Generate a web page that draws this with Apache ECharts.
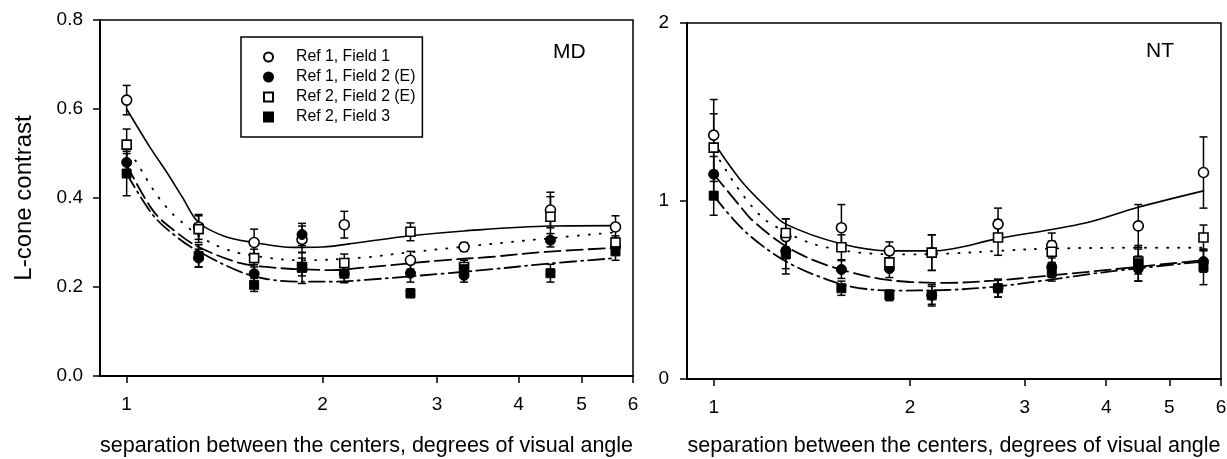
<!DOCTYPE html>
<html>
<head>
<meta charset="utf-8">
<script src="https://cdn.jsdelivr.net/npm/echarts@6/dist/echarts.min.js"></script>
<style>
  html, body { margin: 0; padding: 0; background: #fff; }
  #chart { width: 1227px; height: 459px; }
</style>
</head>
<body>
<div id="chart"></div>
<script>
var FONT = '"Liberation Sans", Arial, sans-serif';

// separation between the centers (deg)
var sep = [1.0, 1.29, 1.57, 1.86, 2.16, 2.73, 3.30, 4.48, 5.64];
var xTicks = [1, 2, 3, 4, 5, 6];
var names = ['Ref 1, Field 1', 'Ref 1, Field 2 (E)', 'Ref 2, Field 2 (E)', 'Ref 2, Field 3'];

// MD panel
var md_r1f1 = [0.62, 0.335, 0.30, 0.307, 0.34, 0.26, 0.29, 0.373, 0.335];
var md_r1f2 = [0.48, 0.265, 0.23, 0.318, 0.23, 0.231, 0.226, 0.305, 0.29];
var md_r2f2 = [0.52, 0.33, 0.265, 0.245, 0.254, 0.324, 0.245, 0.358, 0.30];
var md_r2f3 = [0.455, 0.27, 0.205, 0.243, 0.23, 0.186, 0.24, 0.231, 0.28];
var e_md_r1f1 = [0.033, 0.028, 0.03, 0.03, 0.03, 0.02, 0.01, 0.04, 0.025];
var e_md_r1f2 = [0.02, 0.02, 0.02, 0.025, 0.02, 0.02, 0.015, 0.015, 0.015];
var e_md_r2f2 = [0.035, 0.03, 0.02, 0.02, 0.02, 0.02, 0.015, 0.045, 0.015];
var e_md_r2f3 = [0.05, 0.025, 0.015, 0.035, 0.02, 0.01, 0.02, 0.02, 0.02];

// MD fitted curves
var md_fit1_x = [1.0, 1.085, 1.15, 1.22, 1.29, 1.42, 1.57, 1.8, 2.0, 2.28, 2.73, 3.3, 4.48, 5.64];
var md_fit1_y = [0.60, 0.515, 0.46, 0.40, 0.345, 0.313, 0.30, 0.289, 0.29, 0.30, 0.315, 0.326, 0.337, 0.338];
var md_fit2_x = [1.0, 1.1, 1.2, 1.29, 1.49, 1.64, 1.84, 2.07, 2.33, 3.06, 3.65, 4.41, 5.64];
var md_fit2_y = [0.475, 0.37, 0.32, 0.29, 0.254, 0.245, 0.24, 0.238, 0.244, 0.26, 0.268, 0.279, 0.288];
var md_fit3_x = [1.0, 1.03, 1.053, 1.082, 1.11, 1.144, 1.185, 1.232, 1.29, 1.42, 1.57, 1.86, 2.3, 2.72, 3.48, 4.5, 5.64];
var md_fit3_y = [0.50, 0.485, 0.463, 0.434, 0.409, 0.384, 0.36, 0.339, 0.315, 0.285, 0.27, 0.26, 0.266, 0.278, 0.294, 0.31, 0.323];
var md_fit4_x = [1.0, 1.1, 1.2, 1.29, 1.49, 1.64, 1.84, 2.07, 2.33, 3.06, 3.65, 4.41, 5.64];
var md_fit4_y = [0.455, 0.36, 0.31, 0.28, 0.235, 0.218, 0.212, 0.212, 0.216, 0.23, 0.24, 0.252, 0.265];

// NT panel
var nt_r1f1 = [1.37, 0.80, 0.85, 0.72, 0.71, 0.87, 0.75, 0.86, 1.16];
var nt_r1f2 = [1.15, 0.72, 0.615, 0.62, 0.47, 0.51, 0.63, 0.62, 0.66];
var nt_r2f2 = [1.30, 0.82, 0.74, 0.655, 0.71, 0.795, 0.715, 0.66, 0.795];
var nt_r2f3 = [1.03, 0.70, 0.51, 0.47, 0.47, 0.51, 0.60, 0.65, 0.63];
var e_nt_r1f1 = [0.2, 0.1, 0.13, 0.05, 0.1, 0.09, 0.07, 0.12, 0.2];
var e_nt_r1f2 = [0.1, 0.1, 0.05, 0.05, 0.06, 0.05, 0.06, 0.07, 0.06];
var e_nt_r2f2 = [0.19, 0.08, 0.07, 0.05, 0.1, 0.1, 0.06, 0.07, 0.07];
var e_nt_r2f3 = [0.11, 0.11, 0.04, 0.03, 0.05, 0.05, 0.05, 0.1, 0.1];

var nt_fit1_x = [1.0, 1.1, 1.21, 1.29, 1.567, 1.87, 2.17, 2.74, 3.7, 4.48, 5.64];
var nt_fit1_y = [1.33, 1.117, 0.958, 0.87, 0.76, 0.72, 0.72, 0.79, 0.875, 0.965, 1.057];
var nt_fit2_x = [1.0, 1.1, 1.14, 1.25, 1.36, 1.49, 1.64, 1.80, 2.0, 2.28, 2.69, 3.21, 4.07, 5.64];
var nt_fit2_y = [1.15, 0.967, 0.90, 0.78, 0.70, 0.64, 0.595, 0.563, 0.545, 0.54, 0.553, 0.578, 0.615, 0.668];
var nt_fit3_x = [1.0, 1.025, 1.068, 1.10, 1.13, 1.17, 1.22, 1.37, 1.48, 1.72, 2.0, 2.3, 2.74, 3.3, 4.48, 5.64];
var nt_fit3_y = [1.28, 1.22, 1.117, 1.05, 0.995, 0.93, 0.875, 0.78, 0.742, 0.706, 0.70, 0.705, 0.72, 0.733, 0.737, 0.737];
var nt_fit4_x = [1.0, 1.07, 1.14, 1.24, 1.33, 1.44, 1.62, 1.89, 2.26, 2.69, 3.21, 4.07, 5.64];
var nt_fit4_y = [1.03, 0.90, 0.80, 0.70, 0.635, 0.58, 0.52, 0.497, 0.50, 0.518, 0.553, 0.605, 0.66];

var lg = function (v) { return Math.log10(v); };

function pts(xs, ys) {
    return xs.map(function (x, i) { return [lg(x), ys[i]]; });
}
function errPts(ys, es) {
    return sep.map(function (x, i) { return [lg(x), ys[i], es[i]]; });
}

function renderErr(params, api) {
    var x = api.value(0), y = api.value(1), e = api.value(2);
    var top = api.coord([x, y + e]);
    var bot = api.coord([x, y - e]);
    var w = 4;
    var st = { stroke: '#000', lineWidth: 1.5 };
    return {
        type: 'group',
        children: [
            { type: 'line', shape: { x1: top[0], y1: top[1], x2: bot[0], y2: bot[1] }, style: st },
            { type: 'line', shape: { x1: top[0] - w, y1: top[1], x2: top[0] + w, y2: top[1] }, style: st },
            { type: 'line', shape: { x1: bot[0] - w, y1: bot[1], x2: bot[0] + w, y2: bot[1] }, style: st }
        ]
    };
}

var markerStyle = [
    { symbol: 'circle', size: 10, itemStyle: { color: '#fff', borderColor: '#000', borderWidth: 1.6, opacity: 1 } },
    { symbol: 'circle', size: 10, itemStyle: { color: '#000', borderColor: '#000', borderWidth: 1, opacity: 1 } },
    { symbol: 'rect', size: 9, itemStyle: { color: '#fff', borderColor: '#000', borderWidth: 1.6, opacity: 1 } },
    { symbol: 'rect', size: 9, itemStyle: { color: '#000', borderColor: '#000', borderWidth: 1, opacity: 1 } }
];
var fitStyle = [
    { type: 'solid', width: 1.6 },
    { type: [16, 6], width: 1.8 },
    { type: [1, 10], width: 1.9 },
    { type: [16, 5, 2, 5], width: 1.8 }
];

function xAxisOf(idx) {
    return {
        type: 'value', gridIndex: idx,
        min: lg(0.91), max: lg(6),
        name: 'separation between the centers, degrees of visual angle',
        nameLocation: 'middle', nameGap: idx === 0 ? 59 : 56,
        nameTextStyle: { fontFamily: FONT, fontSize: 21.5, color: '#000' },
        axisLine: { show: true, onZero: false, lineStyle: { color: '#000', width: 2 } },
        axisTick: { show: true, length: 7, customValues: xTicks.map(lg), lineStyle: { color: '#000', width: 1.5 } },
        axisLabel: {
            show: true, margin: 19, customValues: xTicks.map(lg),
            fontFamily: FONT, fontSize: 19, color: '#000',
            formatter: function (v) { return String(Math.round(Math.pow(10, v))); }
        },
        splitLine: { show: false }
    };
}

var series = [];
function addPanel(idx, groups, errs, fits) {
    groups.forEach(function (ys, k) {
        series.push({
            type: 'custom', xAxisIndex: idx, yAxisIndex: idx, z: 2,
            renderItem: renderErr, data: errPts(ys, errs[k]), silent: true
        });
    });
    fits.forEach(function (f, k) {
        series.push({
            type: 'line', xAxisIndex: idx, yAxisIndex: idx, z: 1,
            data: pts(f[0], f[1]), smooth: 0.35, showSymbol: false, silent: true,
            lineStyle: { color: '#000', width: fitStyle[k].width, type: fitStyle[k].type, cap: 'round' }
        });
    });
    groups.forEach(function (ys, k) {
        var m = markerStyle[k];
        series.push({
            name: names[k], type: 'scatter', xAxisIndex: idx, yAxisIndex: idx, z: 3,
            symbol: m.symbol, symbolSize: m.size, itemStyle: m.itemStyle,
            emphasis: { disabled: true },
            data: pts(sep, ys)
        });
    });
}

addPanel(0, [md_r1f1, md_r1f2, md_r2f2, md_r2f3],
    [e_md_r1f1, e_md_r1f2, e_md_r2f2, e_md_r2f3],
    [[md_fit1_x, md_fit1_y], [md_fit2_x, md_fit2_y], [md_fit3_x, md_fit3_y], [md_fit4_x, md_fit4_y]]);
addPanel(1, [nt_r1f1, nt_r1f2, nt_r2f2, nt_r2f3],
    [e_nt_r1f1, e_nt_r1f2, e_nt_r2f2, e_nt_r2f3],
    [[nt_fit1_x, nt_fit1_y], [nt_fit2_x, nt_fit2_y], [nt_fit3_x, nt_fit3_y], [nt_fit4_x, nt_fit4_y]]);

var myChart = echarts.init(document.getElementById('chart'));
var option = {
    backgroundColor: '#fff',
    animation: false,
    grid: [
        { left: 100, top: 20, width: 533, height: 356, show: true, borderColor: '#000', borderWidth: 1.5,
          outerBoundsMode: 'none', containLabel: false },
        { left: 687, top: 23, width: 534, height: 356, show: true, borderColor: '#000', borderWidth: 1.5,
          outerBoundsMode: 'none', containLabel: false }
    ],
    xAxis: [xAxisOf(0), xAxisOf(1)],
    yAxis: [
        {
            type: 'value', gridIndex: 0, min: 0, max: 0.8, interval: 0.2,
            name: 'L-cone contrast', nameLocation: 'middle', nameGap: 64,
            nameTextStyle: { fontFamily: FONT, fontSize: 24, color: '#000' },
            axisLine: { show: true, onZero: false, lineStyle: { color: '#000', width: 2 } },
            axisTick: { show: true, length: 7, lineStyle: { color: '#000', width: 1.5 } },
            axisLabel: { margin: 17, fontFamily: FONT, fontSize: 19, color: '#000',
                formatter: function (v) { return v.toFixed(1); } },
            splitLine: { show: false }
        },
        {
            type: 'value', gridIndex: 1, min: 0, max: 2, interval: 1,
            axisLine: { show: true, onZero: false, lineStyle: { color: '#000', width: 2 } },
            axisTick: { show: true, length: 7, lineStyle: { color: '#000', width: 1.5 } },
            axisLabel: { margin: 18, fontFamily: FONT, fontSize: 19, color: '#000' },
            splitLine: { show: false }
        }
    ],
    legend: {
        left: 241, top: 37, orient: 'vertical',
        data: [
            { name: names[0], icon: 'circle' },
            { name: names[1], icon: 'circle' },
            { name: names[2], icon: 'rect' },
            { name: names[3], icon: 'rect' }
        ],
        itemWidth: 9, itemHeight: 9, itemGap: 4,
        padding: [12, 7, 12, 22],
        borderColor: '#000', borderWidth: 1.5, backgroundColor: '#fff',
        selectedMode: false,
        textStyle: { fontFamily: FONT, fontSize: 15.8, color: '#000', lineHeight: 15, padding: [0, 0, 0, 18] }
    },
    graphic: [
        { type: 'text', left: 553, top: 42, style: { text: 'MD', font: '21px ' + FONT, fill: '#000' } },
        { type: 'text', left: 1146, top: 41, style: { text: 'NT', font: '21px ' + FONT, fill: '#000' } }
    ],
    series: series
};
myChart.setOption(option);
</script>
</body>
</html>
